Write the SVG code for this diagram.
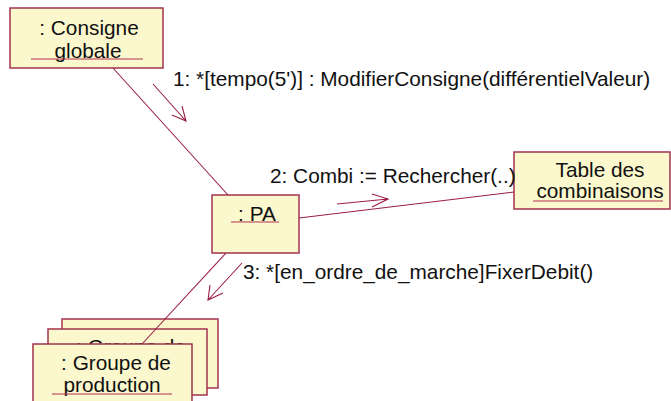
<svg xmlns="http://www.w3.org/2000/svg" width="671" height="401" viewBox="0 0 671 401">
<style>
.box{fill:#FBF8CD;stroke:#A3324E;stroke-width:1.5}
.t{font-family:"Liberation Sans",Arial,sans-serif;font-size:20.8px;fill:#111}
.c{text-anchor:middle}
.ul{stroke:#B0304F;stroke-width:1.2}
.ln{stroke:#9B1E42;stroke-width:1.1;fill:none}
</style>
<defs>
<clipPath id="midclip"><rect x="48" y="329" width="159" height="15"/></clipPath>
</defs>
<rect width="671" height="401" fill="#fff"/>
<g id="consigne">
<rect class="box" x="10" y="8" width="153" height="60"/>
<text class="t c" x="89" y="35">: Consigne</text>
<text class="t c" x="88" y="58">globale</text>
<line class="ul" x1="31" y1="59" x2="143" y2="59"/>
</g>
<g id="pa">
<rect class="box" x="212" y="195" width="87" height="58"/>
<text class="t c" x="257" y="221">: PA</text>
<line class="ul" x1="231" y1="222" x2="279" y2="222"/>
</g>
<g id="table">
<rect class="box" x="514" y="152" width="156" height="57"/>
<text class="t c" x="600" y="177">Table des</text>
<text class="t c" x="600" y="198">combinaisons</text>
<line class="ul" x1="533" y1="201" x2="663" y2="201"/>
</g>
<g id="groupe">
<rect class="box" x="62" y="319" width="156" height="69"/>
<rect class="box" x="48" y="329" width="159" height="66"/>
<text class="t c" x="131" y="354" clip-path="url(#midclip)">: Groupe de</text>
<rect class="box" x="33" y="344" width="159" height="70"/>
<text class="t c" x="116" y="370">: Groupe de</text>
<text class="t c" x="112" y="392">production</text>
<line class="ul" x1="52" y1="394" x2="172" y2="394"/>
</g>
<g id="connectors">
<line class="ln" x1="113" y1="68" x2="228" y2="195"/>
<line class="ln" x1="299" y1="218" x2="514" y2="192"/>
<line class="ln" x1="226" y1="253" x2="142" y2="344"/>
<path class="ln" d="M153,84 L186,121 M172,115 L186,121 L182,106"/>
<path class="ln" d="M337,204 L388,199 M372,194 L388,199 L372,207"/>
<path class="ln" d="M242,263 L208,300 M210,285 L208,300 L223,293"/>
</g>
<g id="labels">
<text class="t" x="173" y="86">1: *[tempo(5')] : ModifierConsigne(différentielValeur)</text>
<text class="t" x="270" y="183">2: Combi := Rechercher(..)</text>
<text class="t" x="243" y="279">3: *[en_ordre_de_marche]FixerDebit()</text>
</g>
</svg>
